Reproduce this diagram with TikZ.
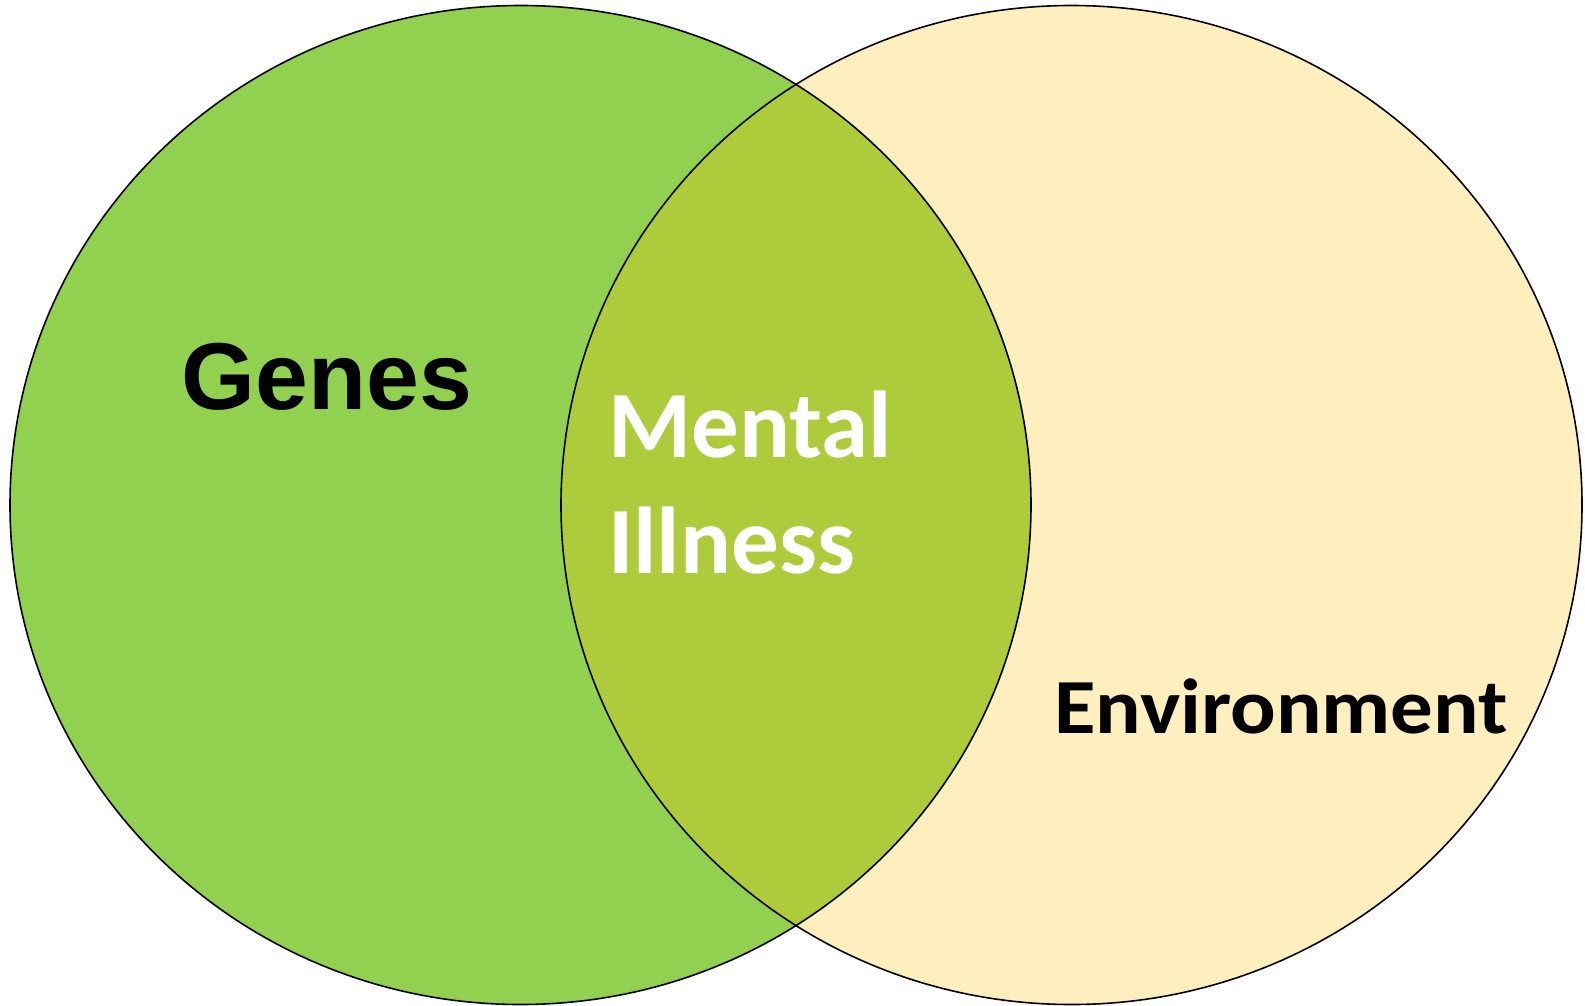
\documentclass[tikz,border=0pt]{standalone}
\usepackage{fontspec}
\setmainfont{Carlito}
\newfontfamily\genesfont{Liberation Sans}
\usepackage{tikz}
\usetikzlibrary{positioning}

\definecolor{genegreen}{HTML}{92D050}
\definecolor{envyellow}{HTML}{FFC000}

\begin{document}
\begin{tikzpicture}[
    x=1pt, y=-1pt,
    blob/.style={draw=black, line width=1.6pt},
    bigtitle/.style={font=\genesfont\bfseries\fontsize{95}{114}\selectfont, inner sep=0pt},
    midtitle/.style={font=\bfseries\fontsize{95}{116}\selectfont, text=white, inner sep=0pt},
    envtitle/.style={font=\bfseries\fontsize{78}{94}\selectfont, inner sep=0pt, xscale=1.09, transform shape},
]
\useasboundingbox (0,0) rectangle (1585,1005);

% Draw the two circles
\fill[genegreen] (520.5,505) ellipse [x radius=510.5, y radius=499.5];
\fill[envyellow, fill opacity=0.25] (1071.5,505) ellipse [x radius=510.5, y radius=499.5];
\draw[blob] (520.5,505) ellipse [x radius=510.5, y radius=499.5];
\draw[blob] (1071.5,505) ellipse [x radius=510.5, y radius=499.5];

% Draw the labels
\node[bigtitle, anchor=base] (genes) at (327,409) {Genes};
\node[midtitle, anchor=base west] (mental) at (608,457) {Mental};
\node[midtitle, anchor=base west] (illness) at ([yshift=-116pt]mental.base west) {Illness};
\node[envtitle, anchor=base west] (env) at (1054,733) {Environment};

\end{tikzpicture}
\end{document}
